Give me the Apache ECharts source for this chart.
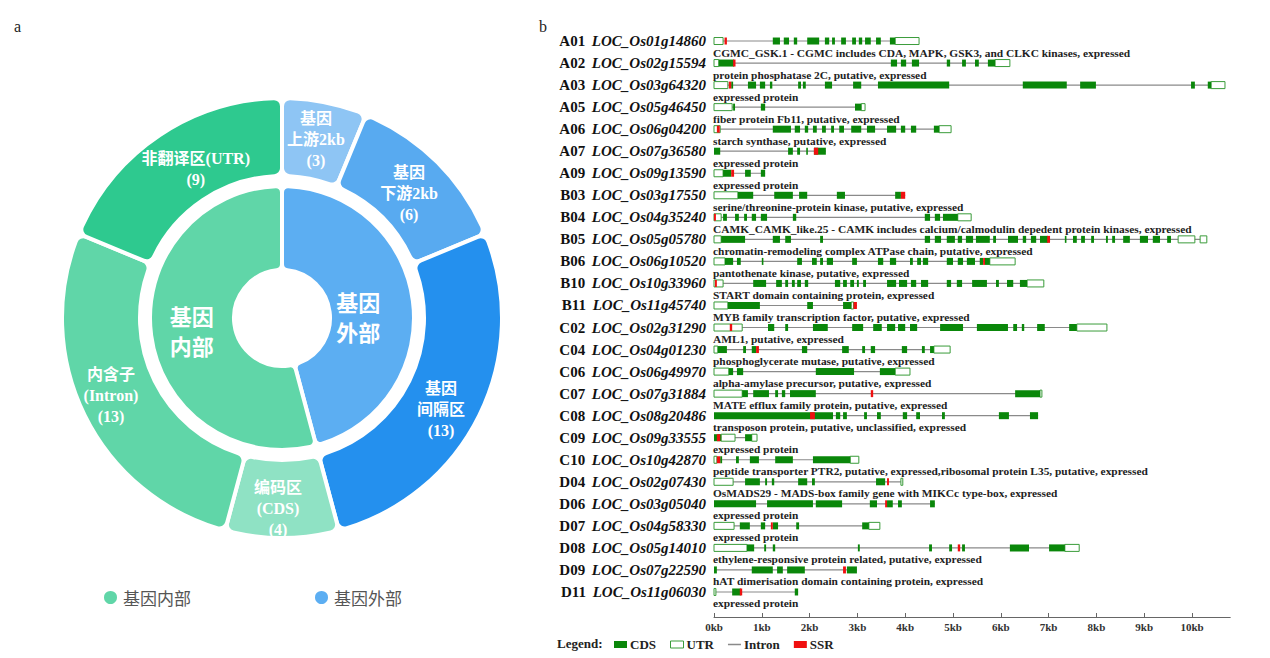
<!DOCTYPE html>
<html><head><meta charset="utf-8">
<script src="https://cdn.jsdelivr.net/npm/echarts@6/dist/echarts.min.js"></script>
<style>html,body{margin:0;padding:0;background:#fff}#c{width:1270px;height:658px}</style>
</head><body><div id="c"></div><script>
// ---------- Panel a : nested pie ----------
const innerNames = ['基因外部', '基因内部'];
const innerValues = [22, 26];
const outerNames = ['基因\n上游2kb\n(3)', '基因\n下游2kb\n(6)', '基因\n间隔区\n(13)', '编码区\n(CDS)\n(4)', '内含子\n(Intron)\n(13)', '非翻译区(UTR)\n(9)'];
const outerValues = [3, 6, 13, 4, 13, 9];

// ---------- Panel b : gene structures ----------
const codes = ['A01','A02','A03','A05','A06','A07','A09','B03','B04','B05','B06','B10','B11','C02','C04','C06','C07','C08','C09','C10','D04','D06','D07','D08','D09','D11'];
const geneIds = ['LOC_Os01g14860','LOC_Os02g15594','LOC_Os03g64320','LOC_Os05g46450','LOC_Os06g04200','LOC_Os07g36580','LOC_Os09g13590','LOC_Os03g17550','LOC_Os04g35240','LOC_Os05g05780','LOC_Os06g10520','LOC_Os10g33960','LOC_Os11g45740','LOC_Os02g31290','LOC_Os04g01230','LOC_Os06g49970','LOC_Os07g31884','LOC_Os08g20486','LOC_Os09g33555','LOC_Os10g42870','LOC_Os02g07430','LOC_Os03g05040','LOC_Os04g58330','LOC_Os05g14010','LOC_Os07g22590','LOC_Os11g06030'];
const descriptions = [
 'CGMC_GSK.1 - CGMC includes CDA, MAPK, GSK3, and CLKC kinases, expressed',
 'protein phosphatase 2C, putative, expressed',
 'expressed protein',
 'fiber protein Fb11, putative, expressed',
 'starch synthase, putative, expressed',
 'expressed protein',
 'expressed protein',
 'serine/threonine-protein kinase, putative, expressed',
 'CAMK_CAMK_like.25 - CAMK includes calcium/calmodulin depedent protein kinases, expressed',
 'chromatin-remodeling complex ATPase chain, putative, expressed',
 'pantothenate kinase, putative, expressed',
 'START domain containing protein, expressed',
 'MYB family transcription factor, putative, expressed',
 'AML1, putative, expressed',
 'phosphoglycerate mutase, putative, expressed',
 'alpha-amylase precursor, putative, expressed',
 'MATE efflux family protein, putative, expressed',
 'transposon protein, putative, unclassified, expressed',
 'expressed protein',
 'peptide transporter PTR2, putative, expressed,ribosomal protein L35, putative, expressed',
 'OsMADS29 - MADS-box family gene with MIKCc type-box, expressed',
 'expressed protein',
 'expressed protein',
 'ethylene-responsive protein related, putative, expressed',
 'hAT dimerisation domain containing protein, expressed',
 'expressed protein'
];
// segments in kb, [start, end]
const cdsSeg = [
 [[1.23,1.38],[1.46,1.57],[1.67,1.74],[1.95,2.20],[2.32,2.41],[2.47,2.53],[2.66,2.76],[2.89,2.97],[3.03,3.10],[3.16,3.28],[3.39,3.49],[3.68,3.79]],
 [[0.10,0.42],[3.70,3.83],[3.91,4.02],[4.14,4.29],[4.87,4.94],[5.19,5.27],[5.46,5.54],[5.73,5.88]],
 [[0.36,0.40],[0.71,0.88],[0.96,1.07],[1.17,1.22],[1.76,1.82],[1.86,1.92],[2.32,2.47],[2.91,3.08],[3.43,4.92],[6.46,7.38],[7.66,7.99],[9.98,10.06],[10.33,10.40]],
 [[0.40,0.44],[0.98,1.07],[2.95,3.08]],
 [[1.23,1.61],[1.69,1.80],[1.90,1.97],[2.07,2.15],[2.26,2.34],[2.45,2.51],[2.62,2.72],[2.87,3.08],[3.20,3.37],[3.62,3.81],[3.91,4.00],[4.12,4.23],[4.60,4.71]],
 [[0,0.13],[1.55,1.65],[1.74,1.80],[1.93,1.96],[2.09,2.34]],
 [[0.19,0.36],[0.65,0.77],[0.98,1.07]],
 [[0.50,0.82],[1.26,1.65],[1.78,1.95],[2.57,2.74],[3.79,3.91]],
 [[0.19,0.27],[0.44,0.52],[0.63,0.69],[0.79,0.88],[0.98,1.11],[1.65,1.72],[4.41,4.52],[4.62,4.73],[4.79,5.10]],
 [[0.15,0.65],[1.23,1.38],[1.49,1.61],[2.22,2.28],[4.41,4.52],[4.62,4.75],[4.87,5.04],[5.10,5.19],[5.27,5.42],[5.48,5.77],[5.84,5.90],[6.15,6.36],[6.46,6.53],[6.63,6.74],[6.82,6.99],[7.34,7.37],[7.51,7.59],[7.68,7.76],[7.89,7.95],[8.20,8.24],[8.33,8.39],[8.56,8.70],[8.91,9.08],[9.18,9.33],[9.48,9.56]],
 [[0.23,0.40],[0.48,0.56],[1.00,1.03],[1.74,1.84],[2.05,2.15],[2.22,2.28],[2.36,2.49],[2.89,2.99],[3.43,3.54],[3.68,3.81],[4.10,4.16],[4.25,4.33],[4.37,4.48],[4.87,5.00],[5.10,5.21],[5.29,5.46],[5.56,5.63],[5.67,5.77]],
 [[0.82,1.09],[1.30,1.42],[1.49,1.55],[1.63,1.69],[1.74,1.82],[1.90,1.97],[2.53,2.64],[2.70,2.78],[2.85,2.93],[2.99,3.03],[3.12,3.18],[3.62,3.81],[3.87,4.04],[4.12,4.23],[4.33,4.48],[4.87,4.96],[5.08,5.19],[5.40,5.71],[5.90,5.96],[6.13,6.26],[6.40,6.55]],
 [[0.29,0.96],[1.95,2.07],[2.70,2.87]],
 [[1.13,1.26],[1.49,1.55],[2.07,2.38],[2.89,3.12],[3.33,3.51],[3.62,3.79],[3.85,4.00],[4.10,4.25],[4.73,5.21],[5.50,6.15],[6.26,6.34],[6.44,6.49],[6.76,6.92],[7.43,7.59]],
 [[0.08,0.27],[0.61,0.67],[0.79,0.88],[1.84,1.95],[2.68,2.82],[3.10,3.16],[3.28,3.37],[3.93,4.04],[4.35,4.41],[4.52,4.60]],
 [[0.31,0.40],[0.48,0.61],[2.13,2.93],[3.47,3.79]],
 [[0.59,0.71],[0.82,1.15],[1.28,1.34],[1.42,1.49],[1.59,2.13],[6.30,6.82]],
 [[0,2.49],[2.55,2.64],[2.70,2.78],[3.14,3.20],[3.41,3.49],[3.95,4.04],[4.23,4.31],[4.77,4.83],[5.96,6.17],[6.61,6.78]],
 [[0,0.15],[0.65,0.79]],
 [[0.13,0.17],[0.46,0.52],[0.75,0.94],[1.28,1.65],[2.07,2.85]],
 [[0.65,0.96],[1.07,1.11],[1.21,1.26],[1.76,1.95],[2.05,2.11],[3.39,3.58]],
 [[0,0.88],[1.11,2.07],[2.13,2.68],[3.26,3.41],[3.62,3.74],[3.85,3.93],[4.52,4.62]],
 [[0.54,0.75],[0.98,1.07],[1.23,1.34],[1.72,1.78],[3.10,3.24]],
 [[0.69,0.84],[1.05,1.09],[1.23,1.28],[3.01,3.05],[4.50,4.56],[4.92,4.98],[5.19,5.25],[6.19,6.59],[7.01,7.34]],
 [[0,0.06],[0.79,1.23],[1.32,1.44],[1.53,1.90],[2.78,2.99]],
 [[0.38,0.56],[1.69,1.76]]
];
const utrSeg = [
 [[0,0.19],[3.79,4.29]],
 [[0,0.10],[5.88,6.19]],
 [[0,0.29],[10.40,10.69]],
 [[0,0.38],[3.08,3.16]],
 [[0,0.13],[4.71,4.96]],
 [],
 [[0,0.19]],
 [[0,0.50]],
 [[0,0.15],[5.10,5.38]],
 [[0,0.15],[9.71,10.06],[10.17,10.31]],
 [[0,0.23],[5.77,6.30]],
 [[0,0.19],[6.55,6.90]],
 [[0,0.29],[2.87,2.92]],
 [[0,0.59],[7.59,8.22]],
 [[0,0.08],[4.60,4.94]],
 [[0,0.31],[3.79,4.10]],
 [[0,0.59],[6.82,6.86]],
 [],
 [[0.15,0.44],[0.79,0.90]],
 [[0,0.06],[2.85,3.03]],
 [[0,0.40],[3.91,3.95]],
 [],
 [[0,0.42],[3.24,3.47]],
 [[0,0.69],[7.34,7.64]],
 [],
 [[0,0.04]]
];
const ssrSeg = [
 [[0.22,0.27]],
 [[0.40,0.45]],
 [[0.31,0.36]],
 [],
 [[0.06,0.12]],
 [[2.09,2.18]],
 [[0.36,0.42]],
 [[3.91,4.00]],
 [[0,0.04]],
 [[6.97,7.03]],
 [[5.63,5.67]],
 [[0.02,0.06]],
 [[2.92,2.99]],
 [[0.33,0.38]],
 [[0.88,0.94]],
 [],
 [[3.28,3.33]],
 [[2.01,2.11]],
 [[0.06,0.13]],
 [[0.06,0.13]],
 [[3.62,3.66]],
 [[3.58,3.62]],
 [[1.19,1.23]],
 [[5.10,5.15]],
 [[2.70,2.76]],
 [[0.54,0.59]]
];
const tickValues = [0,1,2,3,4,5,6,7,8,9,10];

// ---------- build series data ----------
function flatten(segs){ const out=[]; segs.forEach((g,i)=>g.forEach(s=>out.push([i,s[0],s[1]]))); return out; }
const geneEnds = codes.map((c,i)=>Math.max(0,...[].concat(cdsSeg[i],utrSeg[i],ssrSeg[i]).map(s=>s[1])));
const intronData = geneEnds.map((e,i)=>[i,0,e]);
const descData = codes.map((c,i)=>[i,0]);

const SERIF = "'Liberation Serif','Times New Roman',serif";
const CJK = "'Liberation Serif','Noto Sans CJK SC',serif";
const GREEN = '#0a870a', UTRB = '#3a9c3a', RED = '#f01010', GRAY = '#8a8a8a';
const H = 7;

function boxRender(fill, stroke){
  return function(params, api){
    const y = api.value(0);
    const p0 = api.coord([api.value(1), y]);
    const p1 = api.coord([api.value(2), y]);
    const w = Math.max(p1[0]-p0[0], 1.6);
    return {type:'rect', shape:{x:p0[0], y:p0[1]-H/2, width:w, height:H},
      style: stroke ? {fill:fill, stroke:stroke, lineWidth:1} : {fill:fill}};
  };
}

const chart = echarts.init(document.getElementById('c'), null, {renderer:'svg'});
chart.setOption({
  animation:false,
  backgroundColor:'#fff',
  graphic:[
    {type:'text', left:14, top:18, style:{text:'a', font:"16px "+SERIF, fill:'#222'}},
    {type:'text', left:539, top:18, style:{text:'b', font:"16px "+SERIF, fill:'#222'}},
    {type:'text', left:557, top:637, style:{text:'Legend:', font:"bold 13px "+SERIF, fill:'#222'}}
  ],
  legend:[
    {data:['基因内部','基因外部'], icon:'circle', itemWidth:15, itemHeight:15, left:97, top:584, itemGap:122,
     textStyle:{fontSize:17, color:'#555', fontFamily:"'Noto Sans CJK SC',sans-serif"}, selectedMode:false},
    {data:[{name:'CDS', icon:'rect', itemStyle:{color:GREEN}},
           {name:'UTR', icon:'rect', itemStyle:{color:'#fff', borderColor:UTRB, borderWidth:1}},
           {name:'Intron', icon:'path://M0,0 L12,0 L12,1.4 L0,1.4 Z', itemStyle:{color:GRAY}},
           {name:'SSR', icon:'rect', itemStyle:{color:RED}}],
     left:609, top:633, itemWidth:13, itemHeight:7, itemGap:14, selectedMode:false,
     textStyle:{fontSize:13, fontWeight:'bold', color:'#222', fontFamily:SERIF, padding:[0,0,0,-2]}}
  ],
  grid:{left:714, width:10.8*47.8, top:30, height:573},
  xAxis:{type:'value', min:0, max:10.8, interval:1, offset:14,
    axisLine:{show:true, lineStyle:{color:'#666', width:1}},
    axisTick:{show:true, inside:true, length:4, lineStyle:{color:'#666'}, customValues:tickValues},
    axisLabel:{customValues:tickValues, formatter:'{value}kb', margin:4, fontSize:11, fontWeight:'bold', fontFamily:SERIF, color:'#333'},
    splitLine:{show:false}},
  yAxis:{type:'category', data:codes, inverse:true,
    axisLine:{show:false}, axisTick:{show:false}, splitLine:{show:false},
    axisLabel:{margin:8, formatter:(v,i)=>'{a|'+v+'}  {b|'+geneIds[i]+'}',
      rich:{a:{fontWeight:'bold', fontSize:15, fontFamily:SERIF, color:'#111'},
            b:{fontWeight:'bold', fontStyle:'italic', fontSize:15, fontFamily:SERIF, color:'#111'}}}},
  series:[
    {type:'pie', name:'inner', radius:[48,132], center:[282,318], startAngle:90, clockwise:true, silent:true,
     itemStyle:{borderColor:'#fff', borderWidth:4, borderRadius:6},
     label:{position:'inside', color:'#fff', fontSize:22, fontWeight:'bold', lineHeight:30, fontFamily:"'Noto Sans CJK SC',sans-serif",
       formatter:p=>p.name.slice(0,2)+'\n'+p.name.slice(2)},
     labelLine:{show:false},
     data:innerNames.map((n,i)=>({name:n, value:innerValues[i], itemStyle:{color:['#5caef2','#60d6a8'][i]},
       label:{offset:[[-16,10],[2,0]][i]}}))},
    {type:'pie', name:'outer', radius:[142,220], center:[282,318], startAngle:90, clockwise:true, silent:true,
     itemStyle:{borderColor:'#fff', borderWidth:4, borderRadius:8},
     label:{position:'inside', color:'#fff', fontSize:16, fontWeight:'bold', lineHeight:21, fontFamily:CJK, formatter:'{b}'},
     labelLine:{show:false},
     data:outerNames.map((n,i)=>({name:n, value:outerValues[i],
       itemStyle:{color:['#8ec5f4','#58aaf0','#2490ee','#8fe2c4','#60d6a8','#2ec98f'][i]},
       label:{offset:[[-2,2],[-3,6],[-6,10],[-4,6],[-6,-4],[16,4]][i]}}))},
    {type:'custom', name:'Intron', silent:true, clip:false, encode:{x:[1,2], y:0}, itemStyle:{color:GRAY},
     renderItem:function(params, api){
       const y = api.value(0);
       const p0 = api.coord([api.value(1), y]), p1 = api.coord([api.value(2), y]);
       return {type:'line', shape:{x1:p0[0], y1:p0[1], x2:p1[0], y2:p1[1]}, style:{stroke:GRAY, lineWidth:1.2}};
     }, data:intronData},
    {type:'custom', name:'UTR', silent:true, clip:false, encode:{x:[1,2], y:0},
     itemStyle:{color:'#fff', borderColor:UTRB, borderWidth:1},
     renderItem:boxRender('#fff', UTRB), data:flatten(utrSeg)},
    {type:'custom', name:'CDS', silent:true, clip:false, encode:{x:[1,2], y:0}, itemStyle:{color:GREEN},
     renderItem:boxRender(GREEN, null), data:flatten(cdsSeg)},
    {type:'custom', name:'SSR', silent:true, clip:false, encode:{x:[1,2], y:0}, itemStyle:{color:RED},
     renderItem:boxRender(RED, null), data:flatten(ssrSeg)},
    {type:'custom', name:'desc', silent:true, clip:false, encode:{x:1, y:0},
     renderItem:function(params, api){
       const y = api.value(0);
       const p = api.coord([0, y]);
       return {type:'text', style:{text:descriptions[params.dataIndex], x:p[0]-1, y:p[1]+11.5,
         verticalAlign:'middle', align:'left', font:"bold 11.4px "+SERIF, fill:'#222'}};
     }, data:descData}
  ]
});
</script></body></html>
